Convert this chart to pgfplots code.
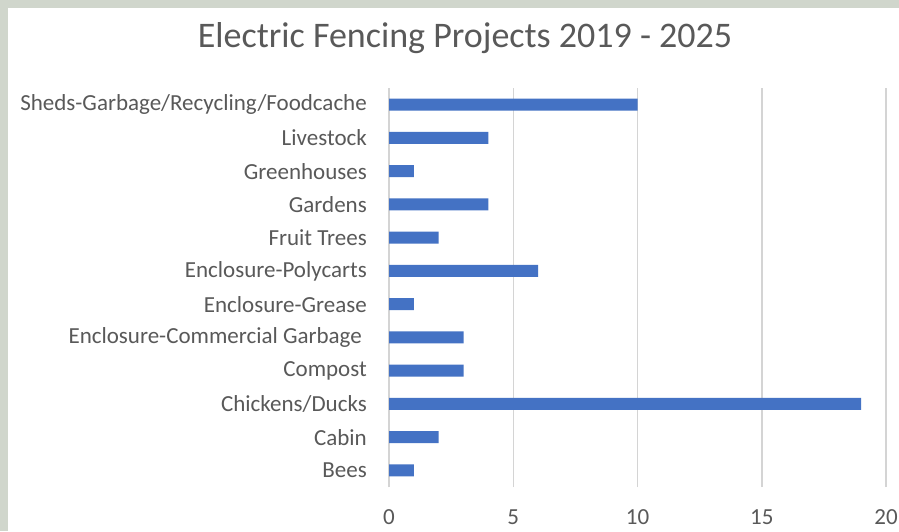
\documentclass[border=0pt]{standalone}
\usepackage{fontspec}
\setmainfont{Carlito}
\usepackage{pgfplots}
\pgfplotsset{compat=1.18}
\definecolor{framegray}{RGB}{208,214,204}
\definecolor{barblue}{RGB}{68,114,196}
\definecolor{txtgray}{RGB}{89,89,89}
\definecolor{gridgray}{RGB}{212,212,212}
\begin{document}
\begin{tikzpicture}[x=1pt,y=1pt]
\useasboundingbox (0,0) rectangle (899,531);
\fill[framegray] (0,0) rectangle (899,531);
\fill[white] (8,0) rectangle (899,523);
\node[text=txtgray, font=\fontsize{36}{42}\selectfont] at (465,493) {Electric Fencing Projects 2019 - 2025};
\begin{axis}[
  at={(389pt,44pt)}, anchor=south west,
  scale only axis, width=497pt, height=399pt,
  xbar, bar width=12pt,
  xmin=0, xmax=20, ymin=-0.5, ymax=11.5,
  xtick={0,5,10,15,20},
  ytick={0,...,11},
  yticklabels={Bees,Cabin,Chickens/Ducks,Compost,{Enclosure-Commercial Garbage\kern5pt},Enclosure-Grease,Enclosure-Polycarts,Fruit Trees,Gardens,Greenhouses,Livestock,Sheds-Garbage/Recycling/Foodcache},
  axis line style={draw=none},
  major tick length=0pt,
  xmajorgrids, grid style={gridgray, line width=1.5pt},
  extra x ticks={0}, extra x tick labels={}, extra x tick style={grid=major},
  ticklabel style={text=txtgray, font=\fontsize{23}{27}\selectfont},
  /pgf/number format/assume math mode=true,
  xticklabel style={anchor=center, yshift=-30pt},
  yticklabel style={anchor=east, inner sep=0pt, xshift=-22pt},
  clip=false,
]
\addplot[fill=barblue, draw=none] coordinates {
  (1,0) (2,1) (19,2) (3,3) (3,4) (1,5) (6,6) (2,7) (4,8) (1,9) (4,10) (10,11)
};
\end{axis}
\end{tikzpicture}
\end{document}
